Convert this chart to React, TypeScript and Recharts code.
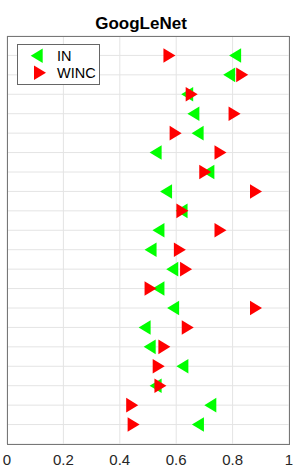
import React from "react";
import { ScatterChart, Scatter, XAxis, YAxis, CartesianGrid } from "recharts";

const rows = [1, 2, 3, 4, 5, 6, 7, 8, 9, 10, 11, 12, 13, 14, 15, 16, 17, 18, 19, 20];
const inValues = [0.809, 0.788, 0.639, 0.661, 0.676, 0.527, 0.714, 0.564, 0.619, 0.537, 0.509, 0.586, 0.537, 0.589, 0.488, 0.506, 0.622, 0.527, 0.721, 0.677];
const wincValues = [0.576, 0.834, 0.655, 0.807, 0.598, 0.757, 0.703, 0.883, 0.622, 0.757, 0.613, 0.635, 0.509, 0.883, 0.641, 0.558, 0.538, 0.544, 0.444, 0.449];
const xTicks = [0, 0.2, 0.4, 0.6, 0.8, 1];
const seriesNames = ["IN", "WINC"];
const title = "GoogLeNet";

const inData = rows.map((r, i) => ({ x: inValues[i], y: r }));
const wincData = rows.map((r, i) => ({ x: wincValues[i], y: r }));

const GREEN = "#00ff00";
const RED = "#ff0000";
const HW = 6;
const HH = 7.3;

const LeftTri = (props: any) => {
  const { cx, cy } = props;
  if (cx == null || cy == null) return <g />;
  return (
    <polygon
      points={`${cx - HW},${cy} ${cx + HW},${cy - HH} ${cx + HW},${cy + HH}`}
      fill={GREEN}
    />
  );
};

const RightTri = (props: any) => {
  const { cx, cy } = props;
  if (cx == null || cy == null) return <g />;
  return (
    <polygon
      points={`${cx + HW},${cy} ${cx - HW},${cy - HH} ${cx - HW},${cy + HH}`}
      fill={RED}
    />
  );
};

const YTick = (props: any) => {
  const { y } = props;
  return (
    <g>
      <line x1={7} x2={10.5} y1={y} y2={y} stroke="#777" strokeWidth={1} />
      <line x1={285.5} x2={289} y1={y} y2={y} stroke="#777" strokeWidth={1} />
    </g>
  );
};

export default function App() {
  return (
    <div style={{ position: "absolute", left: 0, top: 0, width: 295, height: 474, background: "#fff" }}>
      <div
        style={{
          position: "absolute",
          left: 94,
          width: 94,
          top: 15,
          textAlign: "center",
          fontFamily: "'Liberation Sans', Arial, sans-serif",
          fontWeight: "bold",
          fontSize: 17,
          lineHeight: "17px",
          color: "#000",
          whiteSpace: "nowrap",
        }}
      >
        {title}
      </div>
      <ScatterChart width={295} height={474} margin={{ top: 36, right: 6, bottom: 0, left: 7 }}>
        <CartesianGrid stroke="#e4e4e4" strokeWidth={1} />
        <XAxis
          type="number"
          dataKey="x"
          domain={[0, 1]}
          ticks={xTicks}
          height={30}
          axisLine={false}
          tickLine={false}
          tickSize={0}
          tickMargin={10}
          interval={0}
          tickFormatter={(v: number) => String(v)}
          tick={{ fill: "#262626", fontSize: 15, fontFamily: "'Liberation Sans', Arial, sans-serif" }}
        />
        <YAxis
          type="number"
          dataKey="y"
          domain={[0, 21]}
          ticks={rows}
          reversed
          width={0}
          axisLine={false}
          tickLine={false}
          interval={0}
          tick={<YTick />}
        />
        <Scatter name={seriesNames[0]} data={inData} shape={LeftTri} isAnimationActive={false} />
        <Scatter name={seriesNames[1]} data={wincData} shape={RightTri} isAnimationActive={false} />
      </ScatterChart>
      <div
        style={{
          position: "absolute",
          left: 7,
          top: 36,
          width: 283,
          height: 409,
          boxSizing: "border-box",
          border: "1px solid #777",
          pointerEvents: "none",
        }}
      />
      <div
        style={{
          position: "absolute",
          left: 17,
          top: 44,
          width: 83,
          height: 41,
          boxSizing: "border-box",
          border: "1px solid #666",
          background: "#fff",
          fontFamily: "'Liberation Sans', Arial, sans-serif",
          fontSize: 14.5,
          color: "#000",
        }}
      >
        <svg width={81} height={39} style={{ position: "absolute", left: 0, top: 0 }}>
          <polygon points={`${36.7 - 18 - HW},${55.7 - 45} ${36.7 - 18 + HW},${55.7 - 45 - HH} ${36.7 - 18 + HW},${55.7 - 45 + HH}`} fill={GREEN} />
          <polygon points={`${40 - 18 + HW},${72.7 - 45} ${40 - 18 - HW},${72.7 - 45 - HH} ${40 - 18 - HW},${72.7 - 45 + HH}`} fill={RED} />
        </svg>
        <div style={{ position: "absolute", left: 39, top: 3, lineHeight: "16.7px", whiteSpace: "nowrap" }}>{seriesNames[0]}</div>
        <div style={{ position: "absolute", left: 39, top: 19.7, lineHeight: "16.7px", whiteSpace: "nowrap" }}>{seriesNames[1]}</div>
      </div>
    </div>
  );
}
